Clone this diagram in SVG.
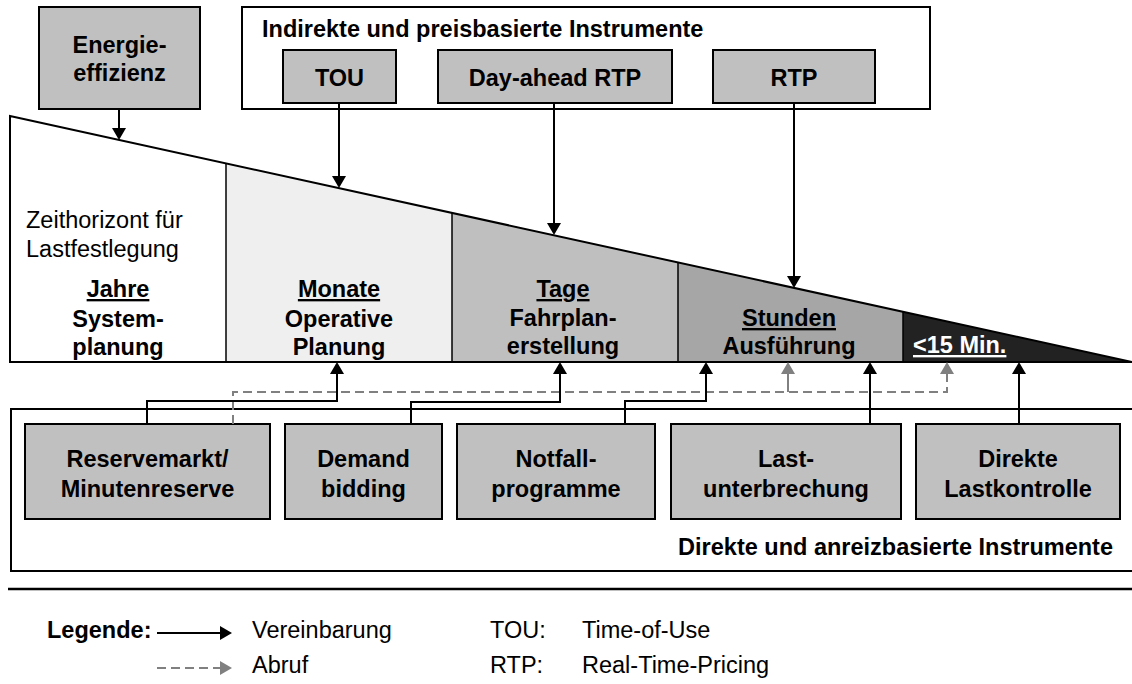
<svg xmlns="http://www.w3.org/2000/svg" width="1132" height="684" viewBox="0 0 1132 684">
  <style>
    .box { fill: #c0c0c0; stroke: #000; stroke-width: 2; }
    .frame { fill: #fff; stroke: #000; stroke-width: 2; }
    .t { font-family: "Liberation Sans", Arial, Helvetica, sans-serif; font-size: 23.5px; fill: #000; }
    .b { font-weight: bold; }
    .c { text-anchor: middle; }
    .u { text-decoration: underline; }
    .conn { fill: none; stroke: #000; stroke-width: 2; }
    .call { fill: none; stroke: #808080; stroke-width: 2; stroke-dasharray: 9 5; }
    .sep { fill: none; stroke: #000; stroke-width: 1.5; }
  </style>
  <defs>
    <marker id="arr" viewBox="0 0 12 14" refX="2" refY="7" markerWidth="12" markerHeight="14" markerUnits="userSpaceOnUse" orient="auto">
      <path d="M0,0 L12,7 L0,14 z" fill="#000"/>
    </marker>
    <marker id="arrGray" viewBox="0 0 12 14" refX="2" refY="7" markerWidth="12" markerHeight="14" markerUnits="userSpaceOnUse" orient="auto">
      <path d="M0,0 L12,7 L0,14 z" fill="#808080"/>
    </marker>
  </defs>

  <rect width="1132" height="684" fill="#fff"/>

  <!-- time horizon wedge, split into five periods -->
  <g id="wedge">
    <polygon points="10,116 226,163.4 226,362 10,362" fill="#fff"/>
    <polygon points="226,163.4 452,212.9 452,362 226,362" fill="#efefef"/>
    <polygon points="452,212.9 678,262.5 678,362 452,362" fill="#bfbfbf"/>
    <polygon points="678,262.5 903,311.8 903,362 678,362" fill="#a6a6a6"/>
    <polygon points="903,311.8 1132,362 903,362" fill="#222"/>
    <line class="sep" x1="226" y1="163.4" x2="226" y2="362"/>
    <line class="sep" x1="452" y1="212.9" x2="452" y2="362"/>
    <line class="sep" x1="678" y1="262.5" x2="678" y2="362"/>
    <line class="sep" x1="903" y1="311.8" x2="903" y2="362"/>
    <polygon points="10,116 1132,362 10,362" fill="none" stroke="#000" stroke-width="2"/>

    <text class="t" x="26" y="228">Zeithorizont für</text>
    <text class="t" x="26" y="257">Lastfestlegung</text>

    <g id="period-jahre">
      <text class="t b c u" x="118" y="297">Jahre</text>
      <text class="t b c" x="118" y="327">System-</text>
      <text class="t b c" x="118" y="355">planung</text>
    </g>
    <g id="period-monate">
      <text class="t b c u" x="339" y="297">Monate</text>
      <text class="t b c" x="339" y="327">Operative</text>
      <text class="t b c" x="339" y="355">Planung</text>
    </g>
    <g id="period-tage">
      <text class="t b c u" x="563" y="297">Tage</text>
      <text class="t b c" x="563" y="326">Fahrplan-</text>
      <text class="t b c" x="563" y="354">erstellung</text>
    </g>
    <g id="period-stunden">
      <text class="t b c u" x="789" y="326">Stunden</text>
      <text class="t b c" x="789" y="354">Ausführung</text>
    </g>
    <g id="period-minuten">
      <text class="t b u" x="913" y="353" style="fill:#fff">&lt;15 Min.</text>
    </g>
  </g>

  <!-- energy efficiency -->
  <g id="energieeffizienz">
    <rect class="box" x="39" y="7" width="161" height="102"/>
    <text class="t b c" x="119.5" y="53">Energie-</text>
    <text class="t b c" x="119.5" y="81">effizienz</text>
  </g>

  <!-- indirect, price based instruments -->
  <g id="indirekt">
    <rect class="frame" x="242" y="7" width="688" height="102"/>
    <text class="t b" x="262" y="37">Indirekte und preisbasierte Instrumente</text>
  </g>
  <g id="tou">
    <rect class="box" x="283" y="50" width="113" height="53"/>
    <text class="t b c" x="339.5" y="86">TOU</text>
  </g>
  <g id="day-ahead-rtp">
    <rect class="box" x="438" y="50" width="234" height="53"/>
    <text class="t b c" x="555" y="86">Day-ahead RTP</text>
  </g>
  <g id="rtp">
    <rect class="box" x="713" y="50" width="162" height="53"/>
    <text class="t b c" x="794" y="86">RTP</text>
  </g>

  <!-- direct, incentive based instruments -->
  <g id="direkt">
    <rect class="frame" x="11" y="409" width="1135" height="162"/>
    <text class="t b" x="1113" y="555" text-anchor="end">Direkte und anreizbasierte Instrumente</text>
  </g>
  <g id="reservemarkt">
    <rect class="box" x="25" y="424" width="245" height="95"/>
    <text class="t b c" x="147.5" y="467">Reservemarkt/</text>
    <text class="t b c" x="147.5" y="497">Minutenreserve</text>
  </g>
  <g id="demand-bidding">
    <rect class="box" x="285" y="424" width="157" height="95"/>
    <text class="t b c" x="363.5" y="467">Demand</text>
    <text class="t b c" x="363.5" y="497">bidding</text>
  </g>
  <g id="notfallprogramme">
    <rect class="box" x="457" y="424" width="198" height="95"/>
    <text class="t b c" x="556" y="467">Notfall-</text>
    <text class="t b c" x="556" y="497">programme</text>
  </g>
  <g id="lastunterbrechung">
    <rect class="box" x="671" y="424" width="230" height="95"/>
    <text class="t b c" x="786" y="467">Last-</text>
    <text class="t b c" x="786" y="497">unterbrechung</text>
  </g>
  <g id="direkte-lastkontrolle">
    <rect class="box" x="916" y="424" width="204" height="95"/>
    <text class="t b c" x="1018" y="467">Direkte</text>
    <text class="t b c" x="1018" y="497">Lastkontrolle</text>
  </g>

  <!-- connectors -->
  <g id="connectors">
    <path class="conn" d="M119,109 V130" marker-end="url(#arr)"/>
    <path class="conn" d="M339,103 V178" marker-end="url(#arr)"/>
    <path class="conn" d="M554,103 V225" marker-end="url(#arr)"/>
    <path class="conn" d="M794,103 V278" marker-end="url(#arr)"/>

    <path class="call" d="M233,424 V392 H947 V372" marker-end="url(#arrGray)"/>
    <path fill="none" stroke="#808080" stroke-width="2" d="M788,392 V372" marker-end="url(#arrGray)"/>

    <path class="conn" d="M147,424 V401 H337 V372" marker-end="url(#arr)"/>
    <path class="conn" d="M411,424 V402 H560 V372" marker-end="url(#arr)"/>
    <path class="conn" d="M625,424 V401 H706 V372" marker-end="url(#arr)"/>
    <path class="conn" d="M870,424 V372" marker-end="url(#arr)"/>
    <path class="conn" d="M1019,424 V372" marker-end="url(#arr)"/>
  </g>

  <!-- legend -->
  <g id="legend">
    <line x1="8" y1="589" x2="1132" y2="589" stroke="#000" stroke-width="2.5"/>
    <text class="t b" x="47" y="638">Legende:</text>
    <path class="conn" d="M157,633 H222" marker-end="url(#arr)"/>
    <text class="t" x="252" y="638">Vereinbarung</text>
    <path class="call" d="M157,668 H222" stroke-dasharray="8 5" marker-end="url(#arrGray)"/>
    <text class="t" x="252" y="673">Abruf</text>
    <text class="t" x="490" y="638">TOU:</text>
    <text class="t" x="582" y="638">Time-of-Use</text>
    <text class="t" x="490" y="673">RTP:</text>
    <text class="t" x="582" y="673">Real-Time-Pricing</text>
  </g>
</svg>
